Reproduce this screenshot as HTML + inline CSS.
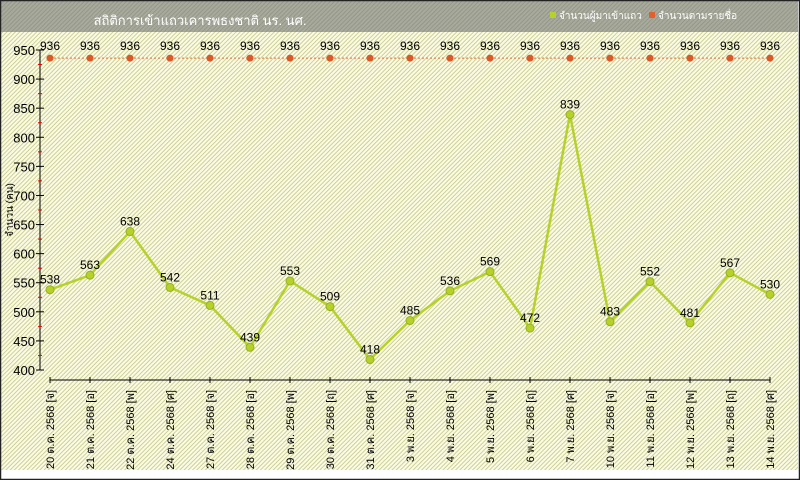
<!DOCTYPE html>
<html><head><meta charset="utf-8"><style>
html,body{margin:0;padding:0;width:800px;height:480px;overflow:hidden;background:#fff}
</style></head><body>
<svg width="800" height="480" xmlns="http://www.w3.org/2000/svg" font-family="Liberation Sans, 'Noto Sans CJK SC', sans-serif">
<defs>
<pattern id="h" width="3" height="3" patternUnits="userSpaceOnUse" patternTransform="rotate(45)">
<rect width="3" height="3" fill="#fbfbe6"/><rect width="1" height="3" fill="#cdd095"/>
</pattern>
<pattern id="t" width="3" height="3" patternUnits="userSpaceOnUse" patternTransform="rotate(45)">
<rect width="3" height="3" fill="#a8aa9c"/><rect width="1" height="3" fill="#94968a"/>
</pattern>
</defs>
<rect x="0" y="0" width="800" height="480" fill="#fff"/>
<rect x="1" y="32" width="797" height="438" fill="url(#h)"/>
<rect x="1" y="1" width="797" height="31" fill="url(#t)"/>
<rect x="0.5" y="0.5" width="799" height="479" fill="none" stroke="#222" stroke-width="1.5"/>
<text x="200" y="25" fill="#fff" font-size="13" text-anchor="middle">สถิติการเข้าแถวเคารพธงชาติ นร. นศ.</text>
<rect x="550" y="12" width="6" height="6" fill="#b6d22a"/>
<text x="559" y="19" fill="#fff" font-size="10">จำนวนผู้มาเข้าแถว</text>
<rect x="649" y="12" width="6" height="6" fill="#e06030"/>
<text x="658" y="19" fill="#fff" font-size="10">จำนวนตามรายชื่อ</text>
<text transform="translate(13,210) rotate(-90)" font-size="10" text-anchor="middle" fill="#000">จำนวน (คน)</text>
<g id="root"></g>
<script>
var s='http://www.w3.org/2000/svg',root=document.getElementById('root');
function el(n,a,t){var e=document.createElementNS(s,n);for(var k in a)e.setAttribute(k,a[k]);if(t)e.textContent=t;root.appendChild(e);return e;}
function Y(v){return 370-(v-400)*320/550;}
el('line',{x1:40,y1:50,x2:40,y2:370,stroke:'#000'});
for(var v=400;v<=950;v+=50){var y=Y(v);el('line',{x1:36,y1:y,x2:44,y2:y,stroke:'#000'});el('text',{x:35,y:y+5,'font-size':13,'text-anchor':'end',fill:'#000'},v);}
for(var v=425;v<950;v+=50){var y=Y(v);el('line',{x1:38,y1:y,x2:42,y2:y,stroke:'#e00'});}
el('line',{x1:50,y1:380,x2:770,y2:380,stroke:'#000'});
var L=['20 ต.ค. 2568 [จ]','21 ต.ค. 2568 [อ]','22 ต.ค. 2568 [พ]','24 ต.ค. 2568 [ศ]','27 ต.ค. 2568 [จ]','28 ต.ค. 2568 [อ]','29 ต.ค. 2568 [พ]','30 ต.ค. 2568 [ฤ]','31 ต.ค. 2568 [ศ]','3 พ.ย. 2568 [จ]','4 พ.ย. 2568 [อ]','5 พ.ย. 2568 [พ]','6 พ.ย. 2568 [ฤ]','7 พ.ย. 2568 [ศ]','10 พ.ย. 2568 [จ]','11 พ.ย. 2568 [อ]','12 พ.ย. 2568 [พ]','13 พ.ย. 2568 [ฤ]','14 พ.ย. 2568 [ศ]'];
var D=[538,563,638,542,511,439,553,509,418,485,536,569,472,839,483,552,481,567,530];
var pts=[];
for(var i=0;i<19;i++){var x=50+40*i;el('line',{x1:x,y1:377,x2:x,y2:383,stroke:'#000'});
el('text',{transform:'translate('+(x+4)+',390) rotate(-90)','font-size':11,'text-anchor':'end',fill:'#000'},L[i]);pts.push(x+','+Y(D[i]).toFixed(1));}
el('line',{x1:50,y1:Y(936),x2:770,y2:Y(936),stroke:'#e07040','stroke-dasharray':'2,2'});
el('polyline',{points:pts.join(' '),fill:'none',stroke:'#b6d22a','stroke-width':2.5});
for(var i=0;i<19;i++){var x=50+40*i,y=Y(D[i]);
el('circle',{cx:x,cy:y,r:4,fill:'#b6d22a',stroke:'#98b020'});
el('text',{x:x,y:y-6,'font-size':12,'text-anchor':'middle',fill:'#000'},D[i]);
el('circle',{cx:x,cy:Y(936),r:3.5,fill:'#d85a28'});
el('text',{x:x,y:Y(936)-8,'font-size':12,'text-anchor':'middle',fill:'#000'},'936');}
</script>
</svg>
</body></html>
